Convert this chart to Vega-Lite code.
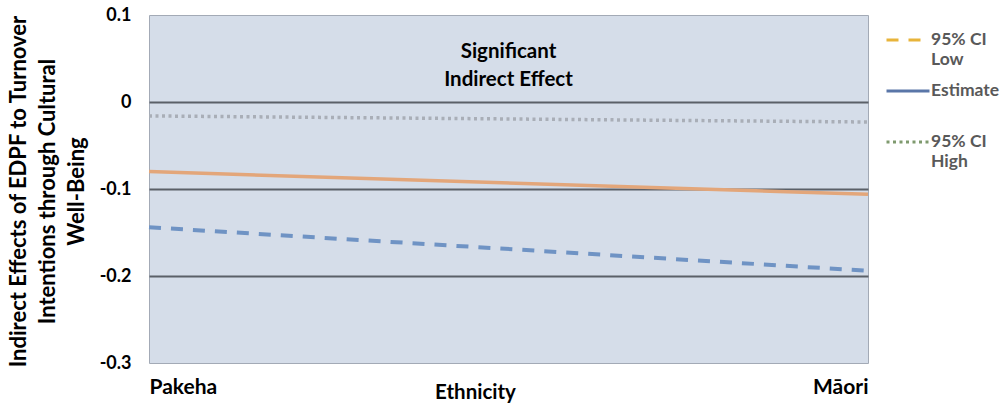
{
  "$schema": "https://vega.github.io/schema/vega-lite/v6.json",
  "width": 719,
  "height": 348,
  "autosize": {"type": "none"},
  "padding": {"left": 149, "top": 15, "right": 139, "bottom": 43},
  "background": "white",
  "config": {
    "view": {"fill": "#d5dde9", "stroke": "#a3aab6", "strokeWidth": 1},
    "font": "Lato"
  },
  "datasets": {
    "lines": [
      {"ethnicity": "Pakeha", "pos": 0, "series": "95% CI Low", "value": -0.144},
      {"ethnicity": "Māori", "pos": 1, "series": "95% CI Low", "value": -0.194},
      {"ethnicity": "Pakeha", "pos": 0, "series": "Estimate", "value": -0.080},
      {"ethnicity": "Māori", "pos": 1, "series": "Estimate", "value": -0.106},
      {"ethnicity": "Pakeha", "pos": 0, "series": "95% CI High", "value": -0.016},
      {"ethnicity": "Māori", "pos": 1, "series": "95% CI High", "value": -0.023}
    ],
    "legendrows": [],
    "notes": [{"pos": 0.5, "value": 0.058, "text": "Significant\nIndirect Effect"}]
  },
  "encoding": {
    "x": {
      "field": "pos",
      "type": "quantitative",
      "scale": {"domain": [0, 1], "nice": false},
      "axis": {
        "title": "Ethnicity",
        "values": [0, 1],
        "labelExpr": "datum.value == 0 ? 'Pakeha' : 'Māori'",
        "labelFlush": true,
        "grid": false,
        "ticks": false,
        "tickSize": 0,
        "domain": false,
        "labelFontSize": 21,
        "labelFontWeight": "bold",
        "labelColor": "black",
        "labelBaseline": "middle",
        "labelPadding": 24,
        "titleFontSize": 20.5,
        "titleFontWeight": "bold",
        "titleColor": "black",
        "titleX": 326,
        "titleY": 29,
        "titleBaseline": "middle",
        "titleAlign": "center"
      }
    },
    "y": {
      "field": "value",
      "type": "quantitative",
      "scale": {"domain": [-0.3, 0.1], "nice": false, "zero": false},
      "axis": {
        "title": ["Indirect Effects of EDPF to Turnover", "Intentions through Cultural", "Well-Being"],
        "values": [0.1, 0, -0.1, -0.2, -0.3],
        "labelExpr": "datum.value == 0 ? '0' : (datum.value < 0 ? '-' : '') + format(abs(datum.value), '.1f')",
        "labelFontSize": 18,
        "labelFontWeight": "bold",
        "labelColor": "black",
        "labelPadding": 18,
        "ticks": false,
        "tickSize": 0,
        "domain": false,
        "grid": true,
        "gridColor": {"condition": {"test": "datum.value > 0.05 || datum.value < -0.25", "value": "transparent"}, "value": "#5b6068"},
        "gridWidth": 2,
        "titleFontSize": 22,
        "titleFontWeight": "bold",
        "titleColor": "black",
        "titleLineHeight": 29,
        "titleAngle": -90,
        "titleBaseline": "middle",
        "titleAlign": "center",
        "titleX": -131,
        "titleY": 176
      }
    }
  },
  "layer": [
    {
      "data": {"name": "lines"},
      "transform": [{"filter": "datum.series == '95% CI Low'"}],
      "mark": {"type": "line", "strokeWidth": 4, "strokeCap": "butt", "color": "#6f93c4", "strokeDash": [12, 10]}
    },
    {
      "data": {"name": "lines"},
      "transform": [{"filter": "datum.series == 'Estimate'"}],
      "mark": {"type": "line", "strokeWidth": 3.5, "strokeCap": "butt", "color": "#e3a67a"}
    },
    {
      "data": {"name": "lines"},
      "transform": [{"filter": "datum.series == '95% CI High'"}],
      "mark": {"type": "line", "strokeWidth": 3.5, "strokeCap": "butt", "color": "#a9aeb7", "strokeDash": [3, 3.5]}
    },
    {
      "data": {"name": "legendrows"},
      "mark": {"type": "line", "strokeWidth": 3},
      "encoding": {
        "stroke": {
          "field": "series",
          "type": "nominal",
          "scale": {"domain": ["95% CI Low", "Estimate", "95% CI High"], "range": ["#e8b43a", "#5a76a8", "#7f9a6e"]},
          "legend": {
            "title": null,
            "orient": "none",
            "legendX": 736,
            "legendY": 2,
            "symbolType": "stroke",
            "symbolSize": 1849,
            "symbolStrokeWidth": 3,
            "labelFontSize": 17.5,
            "labelFontWeight": "bold",
            "labelColor": "#595959",
            "labelOffset": 0,
            "labelExpr": "datum.value == 'Estimate' ? datum.value : [substring(datum.value, 0, 6), substring(datum.value, 7)]",
            "gridAlign": "all",
            "rowPadding": 0
          }
        },
        "strokeDash": {
          "field": "series",
          "type": "nominal",
          "scale": {"domain": ["95% CI Low", "Estimate", "95% CI High"], "range": [[12, 10], [1, 0], [3, 3.5]]},
          "legend": {
            "title": null,
            "orient": "none",
            "legendX": 736,
            "legendY": 2,
            "symbolType": "stroke",
            "symbolSize": 1849,
            "symbolStrokeWidth": 3,
            "labelFontSize": 17.5,
            "labelFontWeight": "bold",
            "labelColor": "#595959",
            "labelOffset": 0,
            "labelExpr": "datum.value == 'Estimate' ? datum.value : [substring(datum.value, 0, 6), substring(datum.value, 7)]",
            "gridAlign": "all",
            "rowPadding": 0
          }
        }
      }
    },
    {
      "data": {"name": "notes"},
      "mark": {"type": "text", "fontSize": 20.5, "fontWeight": "bold", "color": "black", "lineBreak": "\n", "lineHeight": 28, "baseline": "middle"},
      "encoding": {
        "text": {"field": "text", "type": "nominal"}
      }
    }
  ]
}
